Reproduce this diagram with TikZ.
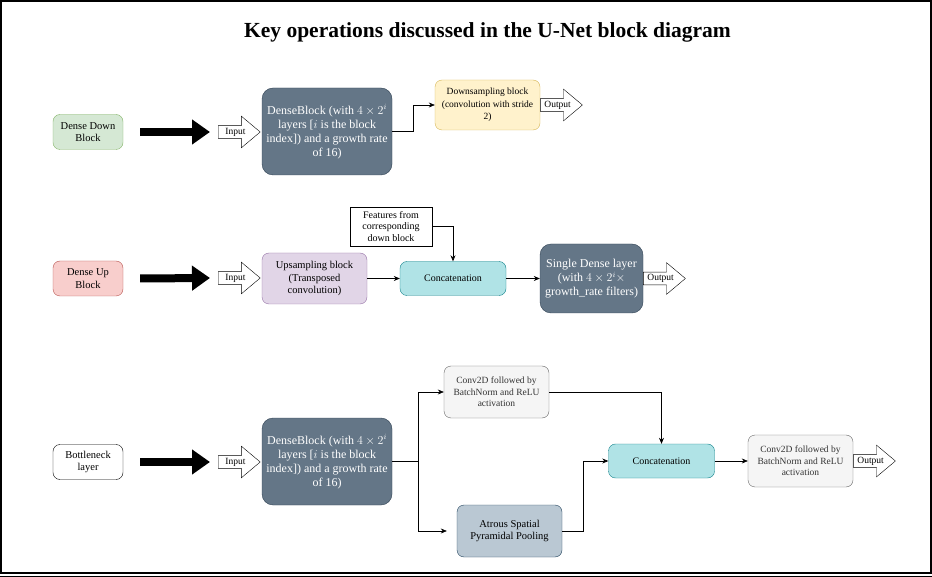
\documentclass[tikz,border=0pt]{standalone}
\usepackage{fontspec}
\setmainfont{Liberation Serif}
\usetikzlibrary{arrows.meta,shapes.arrows,calc}

\definecolor{downfill}{HTML}{D5E8D4}
\definecolor{downline}{HTML}{82B366}
\definecolor{upfill}{HTML}{F8CECC}
\definecolor{upline}{HTML}{B85450}
\definecolor{samplefill}{HTML}{FFF2CC}
\definecolor{sampleline}{HTML}{D6B656}
\definecolor{transfill}{HTML}{E1D5E7}
\definecolor{transline}{HTML}{9673A6}
\definecolor{catfill}{HTML}{B0E3E6}
\definecolor{catline}{HTML}{0E8088}
\definecolor{densefill}{HTML}{647687}
\definecolor{denseline}{HTML}{314354}
\definecolor{convfill}{HTML}{F5F5F5}
\definecolor{convline}{HTML}{666666}
\definecolor{convtext}{HTML}{333333}
\definecolor{asppfill}{HTML}{BAC8D3}
\definecolor{asppline}{HTML}{23445D}

\begin{document}
\begin{tikzpicture}[x=1pt, y=-1pt,
  box/.style={draw, rounded corners=7pt, align=center, inner sep=1pt,
    font=\fontsize{10}{11.5}\selectfont},
  kindbox/.style={box, minimum width=70pt, minimum height=35pt,
    font=\fontsize{10.5}{12.5}\selectfont},
  densebox/.style={box, fill=densefill, draw=denseline, text=white,
    rounded corners=11pt, font=\fontsize{12}{14}\selectfont},
  convbox/.style={box, fill=convfill, draw=convline, text=convtext,
    minimum width=105pt, minimum height=52pt, font=\fontsize{9.5}{11.5}\selectfont},
  catbox/.style={box, fill=catfill, draw=catline, minimum width=106pt, minimum height=34pt},
  hollow/.style={draw, fill=white, single arrow, single arrow head extend=9.5pt,
    single arrow tip angle=80, minimum height=42pt, inner xsep=1pt, inner ysep=2pt,
    anchor=tail, font=\fontsize{9.5}{10}\selectfont},
  bigarrow/.style={line width=8pt, -{Triangle[length=18pt,width=24pt]}},
  flow/.style={line width=0.6pt, -{Stealth[length=6pt,width=5pt]}}
]
  \useasboundingbox (0,0) rectangle (932,577);

  % Frame and title
  \draw[line width=2pt] (1,1) rectangle (931,573);
  \draw[line width=1pt] (0,576.5) -- (932,576.5);
  \node[font=\bfseries\fontsize{21.5}{24}\selectfont] (title) at (487.5,32)
    {Key operations discussed in the U-Net block diagram};

  % Dense down block
  \node[kindbox, fill=downfill, draw=downline] (ddb) at (88,132) {Dense Down\\Block};
  \node[hollow] (in1) at (218,132) {Input};
  \draw[bigarrow] ([xshift=17pt]ddb.east) -- ([xshift=-8pt]in1.tail);
  \node[densebox, minimum width=130pt, minimum height=87pt] (db1) at (327,131.5)
    {DenseBlock (with $4\times2^i$\\layers [$i$ is the block\\index]) and a growth rate\\of 16)};
  \node[box, fill=samplefill, draw=sampleline, minimum width=105pt, minimum height=50pt,
    font=\fontsize{9.5}{12.5}\selectfont]
    (down) at (487.5,105) {Downsampling block\\(convolution with stride\\2)};
  \draw[flow] (db1.east) -- ++(21,0) |- (down.west);
  \node[hollow] (out1) at (down.east) {Output};

  % Dense up block
  \node[kindbox, fill=upfill, draw=upline] (dub) at (88,278.5) {Dense Up\\Block};
  \node[hollow] (in2) at (218,278) {Input};
  \draw[bigarrow] ([xshift=17pt]dub.east) -- ([xshift=-8pt]in2.tail);
  \node[box, fill=transfill, draw=transline, minimum width=105pt, minimum height=51pt,
    font=\fontsize{10.5}{12.5}\selectfont]
    (up) at (314.5,278.5) {Upsampling block\\(Transposed\\convolution)};
  \node[catbox] (cat1) at (453,278.5) {Concatenation};
  \node[draw, align=center, inner sep=1pt, minimum width=82pt, minimum height=39pt,
    font=\fontsize{10}{11.5}\selectfont] (feat) at (391,226.5)
    {Features from\\corresponding\\down block};
  \draw[flow] (feat.east) -| (cat1.north);
  \draw[flow] (up.east) -- (cat1.west);
  \node[densebox, minimum width=103pt, minimum height=69pt] (sdl) at (591.5,278.5)
    {Single Dense layer\\(with $4\times2^i\times$\\growth\_rate filters)};
  \draw[flow] (cat1.east) -- (sdl.west);
  \node[hollow] (out2) at (sdl.east) {Output};

  % Bottleneck
  \node[kindbox, fill=white, draw=black] (bn) at (88,462) {Bottleneck\\layer};
  \node[hollow] (in3) at (218,462) {Input};
  \draw[bigarrow] ([xshift=17pt]bn.east) -- ([xshift=-8pt]in3.tail);
  \node[densebox, minimum width=130pt, minimum height=87pt] (db3) at (327,461.5)
    {DenseBlock (with $4\times2^i$\\layers [$i$ is the block\\index]) and a growth rate\\of 16)};
  \node[convbox] (conv1) at (496.5,392) {Conv2D followed by\\BatchNorm and ReLU\\activation};
  \node[box, fill=asppfill, draw=asppline, minimum width=105pt, minimum height=52pt,
    font=\fontsize{10.5}{12.5}\selectfont]
    (aspp) at (509.5,531) {Atrous Spatial\\Pyramidal Pooling};
  \coordinate (split) at ($(db3.east)+(26,0)$);
  \draw[line width=0.6pt] (db3.east) -- (split);
  \draw[flow] (split) |- (conv1.west);
  \draw[flow] (split) |- ([xshift=-10pt]aspp.west);
  \node[catbox] (cat2) at (661.5,461) {Concatenation};
  \draw[flow] (conv1.east) -| (cat2.north);
  \draw[flow] (aspp.east) -- ++(21,0) |- (cat2.west);
  \node[convbox] (conv2) at (800.5,461) {Conv2D followed by\\BatchNorm and ReLU\\activation};
  \draw[flow] (cat2.east) -- (conv2.west);
  \node[hollow] (out3) at (conv2.east) {Output};
\end{tikzpicture}
\end{document}
